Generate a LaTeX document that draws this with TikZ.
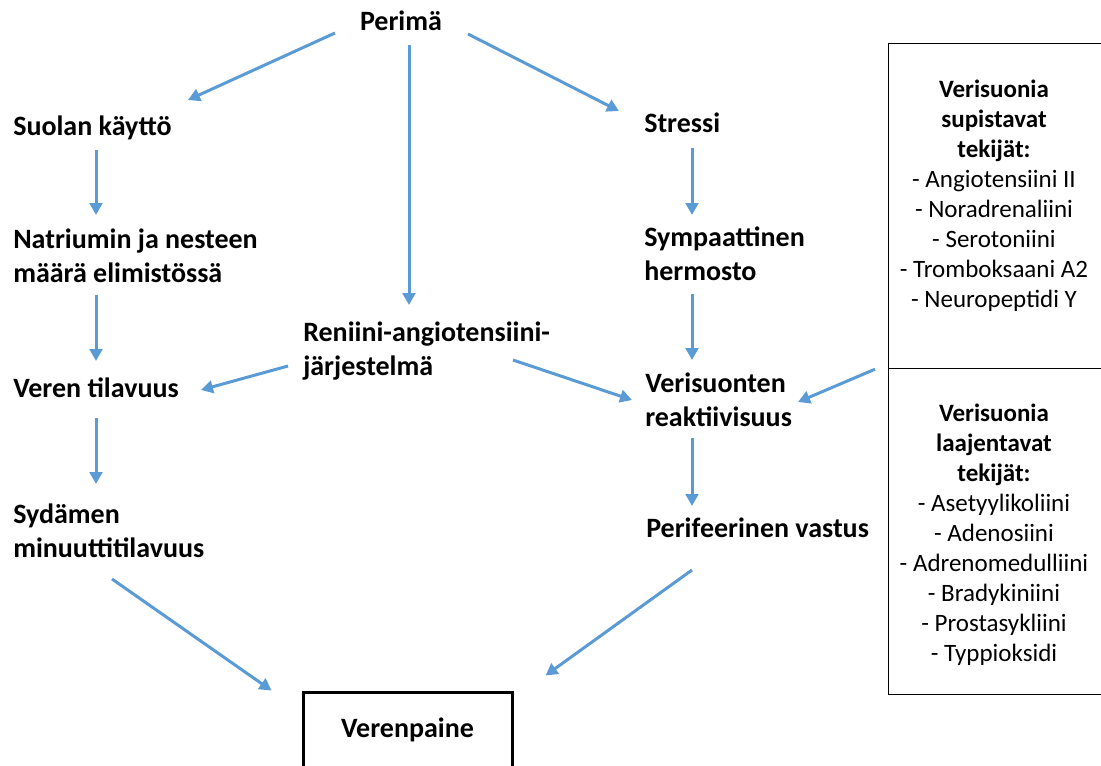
\documentclass[tikz,border=0pt]{standalone}
\usepackage{fontspec}
\setmainfont{Carlito}
\usetikzlibrary{calc,arrows.meta}
\definecolor{arrowblue}{HTML}{5B9BD5}

\begin{document}
\begin{tikzpicture}[
    x=0.75pt, y=-0.75pt,
    % Node styles
    factor/.style={inner sep=0pt, anchor=base west, align=left, font=\fontsize{21pt}{25.5pt}\selectfont\bfseries},
    result/.style={draw, line width=2.25pt, minimum width=156.75pt, minimum height=57pt, inner sep=0pt, font=\fontsize{21pt}{25.5pt}\selectfont\bfseries},
    listbox/.style={draw, line width=0.9pt, minimum width=163.5pt, inner sep=0pt, anchor=north west},
    listtext/.style={inner sep=0pt, anchor=base, align=center, font=\fontsize{18.75pt}{22.5pt}\selectfont},
    arrow/.style={-{Triangle[length=9pt,width=9.5pt]}, line width=2.25pt, draw=arrowblue},
]
    \clip (0,0) rectangle (1101,765);

    % Factors (placed at the baseline of their last line)
    \node[factor, anchor=base] (perima) at (401,30) {Perimä};
    \node[factor] (suola) at (13,135) {Suolan käyttö};
    \node[factor] (natrium) at (13,282) {Natriumin ja nesteen\\määrä elimistössä};
    \node[factor] (veren) at (13,397) {Veren tilavuus};
    \node[factor] (sydan) at (13,557) {Sydämen\\minuuttitilavuus};
    \node[factor] (reniini) at (303,375) {Reniini-angiotensiini-\\järjestelmä};
    \node[factor] (stressi) at (644,132) {Stressi};
    \node[factor] (sympaatt) at (644,280) {Sympaattinen\\hermosto};
    \node[factor] (reakt) at (645,426) {Verisuonten\\reaktiivisuus};
    \node[factor] (perif) at (646,537) {Perifeerinen vastus};
    \node[result] (verenpaine) at (407.5,730) {Verenpaine};

    % Vasoactive substances
    \node[listbox, minimum height=243.75pt] (supist) at (888,43) {};
    \node[listbox, minimum height=244.5pt] (laajent) at (888,368) {};
    \node[listtext] (supisttext) at ($(supist.north west)+(106,264)$)
        {\textbf{Verisuonia}\\\textbf{supistavat}\\\textbf{tekijät:}\\- Angiotensiini II\\- Noradrenaliini\\- Serotoniini\\- Tromboksaani A2\\- Neuropeptidi Y};
    \node[listtext] (laajenttext) at ($(laajent.north west)+(106,293)$)
        {\textbf{Verisuonia}\\\textbf{laajentavat}\\\textbf{tekijät:}\\- Asetyylikoliini\\- Adenosiini\\- Adrenomedulliini\\- Bradykiniini\\- Prostasykliini\\- Typpioksidi};

    % Connections
    \draw[arrow] ($(perima.base)+(-66,3)$) -- ($(suola.base west)+(175,-35)$);
    \draw[arrow] ($(perima.base)+(8,15)$) -- ($(reniini.base west)+(106,-70)$);
    \draw[arrow] ($(perima.base)+(67,4)$) -- ($(stressi.base west)+(-25,-21)$);
    \draw[arrow] ($(suola.base west)+(83,15)$) -- ($(natrium.base west)+(83,-67)$);
    \draw[arrow] ($(natrium.base west)+(83,13)$) -- ($(veren.base west)+(83,-36)$);
    \draw[arrow] ($(veren.base west)+(83,21)$) -- ($(sydan.base west)+(83,-73)$);
    \draw[arrow] ($(reniini.base west)+(-15,-9)$) -- ($(veren.base west)+(188,-7)$);
    \draw[arrow] ($(reniini.base west)+(210,-15)$) -- ($(reakt.base west)+(-13,-26)$);
    \draw[arrow] ($(stressi.base west)+(48,16)$) -- ($(sympaatt.base west)+(48,-65)$);
    \draw[arrow] ($(sympaatt.base west)+(48,14)$) -- ($(reakt.base west)+(47,-66)$);
    \draw[arrow] ($(supist.south west)+(-13,0)$) -- ($(reakt.base west)+(153,-24)$);
    \draw[arrow] ($(reakt.base west)+(47,12)$) -- ($(perif.base west)+(46,-31)$);
    \draw[arrow] ($(sydan.base west)+(99,22)$) -- ($(verenpaine.north west)+(-30,0)$);
    \draw[arrow] ($(perif.base west)+(46,33)$) -- ($(verenpaine.north east)+(32,-15)$);

\end{tikzpicture}
\end{document}
